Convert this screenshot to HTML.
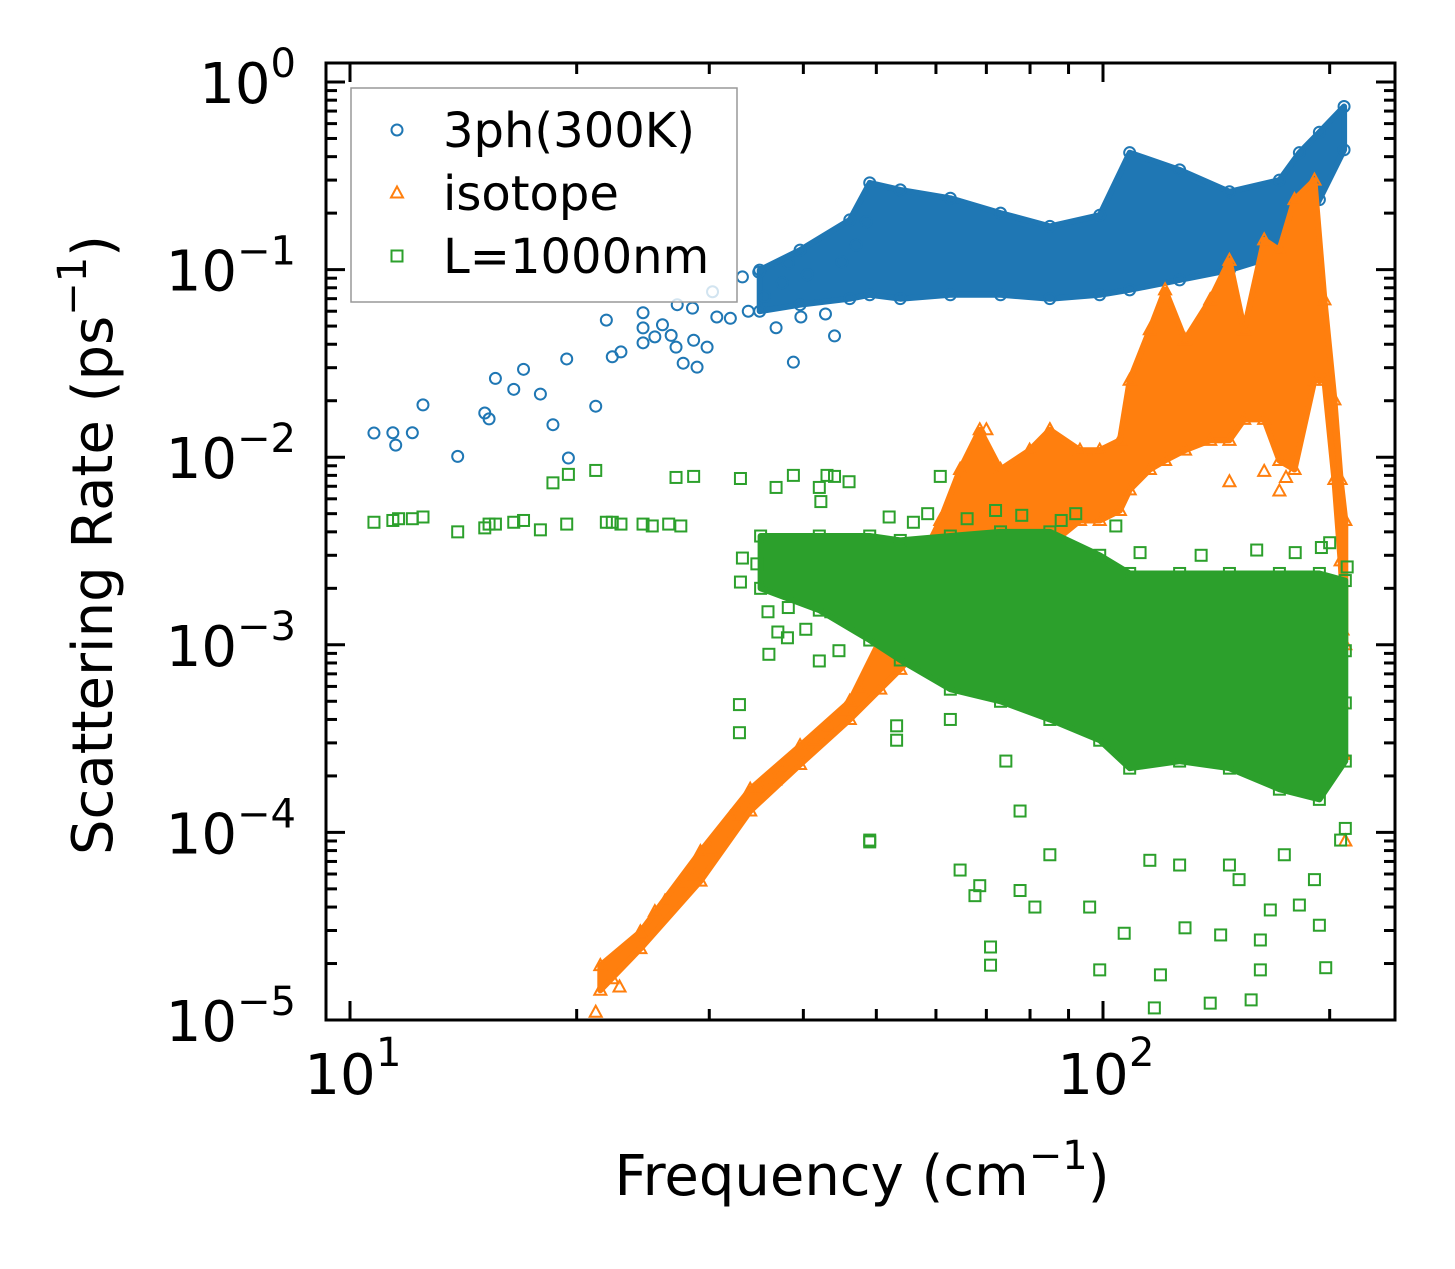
<!DOCTYPE html>
<html><head><meta charset="utf-8"><style>
html,body{margin:0;padding:0;background:#fff;}
svg{display:block;font-family:"DejaVu Sans","Liberation Sans",sans-serif;}
</style></head><body>
<svg id="chart" width="1455" height="1269" viewBox="0 0 1455 1269" xmlns="http://www.w3.org/2000/svg">
<rect x="0" y="0" width="1455" height="1269" fill="#fff"/>
<g id="series"></g>
<g id="axes"></g>
</svg>
<script>
// ---- data ----
const blueFreq=[10.76,11.4,11.5,12.1,12.5,13.9,15.1,15.3,15.6,16.5,17.0,17.9,18.6,19.4,19.5,21.2,21.9,22.3,22.9,24.5,24.5,24.5,25.4,26.0,26.7,27.1,27.2,27.7,28.5,28.6,28.9,29.8,30.3,30.7,33.2,34.9,38.8,44.0,36.8,39.7,42.8,38.2,32.0,33.8,35.5,37.5,40.5,45.0,47.0,48.5];
const blueRate=[0.01345,0.0135,0.0116,0.0135,0.019,0.0101,0.0172,0.016,0.0263,0.023,0.0294,0.0217,0.0149,0.0334,0.0099,0.0187,0.0538,0.0343,0.0364,0.0589,0.0489,0.0407,0.0438,0.0508,0.0446,0.0386,0.065,0.0317,0.0623,0.042,0.0302,0.0386,0.0762,0.0559,0.0914,0.097,0.0321,0.0443,0.049,0.0559,0.058,0.108,0.055,0.060,0.072,0.085,0.094,0.110,0.135,0.180];
const blueBandFreq=[35.0,39.6,46.1,49.0,53.8,62.7,73.1,85.0,99.0,108.5,126.4,147.2,171.5,182.3,193.8,209];
const blueBandHi=[0.0994,0.127,0.184,0.290,0.266,0.240,0.200,0.170,0.195,0.420,0.340,0.260,0.300,0.420,0.540,0.740];
const blueBandLo=[0.0600,0.0650,0.0700,0.0734,0.0700,0.0734,0.0734,0.0700,0.0734,0.0780,0.0881,0.0994,0.120,0.144,0.236,0.435];

const orangeBandFreq=[21.5,24.3,29.2,34.0,39.6,46.1,50.6,53.8,57.2,60.8,64.6,68.6,73.1,79.9,85.0,93.2,99.0,105.3,108.5,115.4,120.9,128.5,138.8,147.2,154.0,163.7,171.5,179.6,190.9,196.8,202.9,206.8,209.8];
const orangeBandHi=[1.95e-5,2.95e-5,7.9e-5,1.7e-4,2.9e-4,5.0e-4,1.06e-3,1.74e-3,2.8e-3,4.6e-3,8.6e-3,0.0140,0.0086,0.0109,0.0140,0.0109,0.0109,0.0123,0.0257,0.0478,0.078,0.0423,0.069,0.112,0.0478,0.144,0.127,0.236,0.300,0.069,0.0202,0.0076,0.0046];
const orangeBandLo=[1.44e-5,2.4e-5,5.5e-5,1.3e-4,2.3e-4,4.0e-4,5.8e-4,7.4e-4,9.8e-4,1.06e-3,1.38e-3,2.0e-3,2.2e-3,2.8e-3,3.4e-3,4.6e-3,4.6e-3,5.2e-3,6.7e-3,8.6e-3,9.6e-3,0.0109,0.0123,0.0123,0.0159,0.0159,0.0096,0.0086,0.0257,0.0257,0.0076,0.0028,0.0010];
const orangeFreq=[21.2,22.3,22.8,24.4,25.4,26.2,27.5,28.7,30.1,32.0,32.9,35.1,36.7,37.8,41.4,43.4,45.4,47.6,147.2,163.7,171.5,175.0,202.9,205.0,207.5,209.8,209.0,208.0,70.0,85.0];
const orangeRate=[1.10e-5,1.66e-5,1.5e-5,2.85e-5,3.78e-5,4.3e-5,5.3e-5,5.9e-5,8.1e-5,1.2e-4,1.24e-4,1.7e-4,1.9e-4,2.2e-4,3.1e-4,3.7e-4,4.5e-4,5.8e-4,0.0074,0.0084,0.0066,0.0078,0.0020,0.0014,4.9e-4,9.0e-5,2.6e-4,1.2e-3,0.0140,0.0140];

const greenBandFreq=[35.1,42.0,49.0,53.8,62.7,73.1,85.0,99.0,108.5,126.4,147.2,171.5,193.8,209.8];
const greenBandHi=[0.0038,0.0038,0.0038,0.0036,0.0038,0.0040,0.0040,0.0030,0.0024,0.0024,0.0024,0.0024,0.0024,0.0022];
const greenBandLo=[0.0020,0.00153,0.00106,0.00083,0.00058,0.0005,0.0004,0.00031,0.00022,0.00024,0.00022,0.00017,0.00015,0.00024];
const greenFreq=[10.76,11.4,11.6,12.1,12.5,13.9,15.1,15.3,15.6,16.5,17.0,17.9,19.4,21.9,22.3,22.9,24.5,25.2,26.5,27.5,18.6,19.5,21.2,27.1,28.6,33.0,36.8,38.8,42.0,42.2,43.0,44.0,46.0,60.8,33.2,34.7,33.0,35.9,38.2,37.0,38.1,36.0,40.3,43.5,44.6,42.0,32.9,32.9,53.2,53.2,49.0,49.0,67.6,68.6,70.9,70.9,64.6,77.6,81.2,96.0,99.0,106.7,119.2,117.0,128.5,138.8,157.3,161.8,166.8,182.3,193.8,197.6,161.8,143.3,151.6,190.9,206.8,209.8,115.4,126.4,147.2,174.1,85.0,77.6,74.3,62.7,209.8,209.8,200.0,211.0,52.0,56.0,58.5,66.0,72.0,78.0,88.0,92.0,104.0,112.0,135.0,160.0,180.0,195.0];
const greenRate=[0.0045,0.0046,0.0047,0.0047,0.0048,0.0040,0.0042,0.0044,0.0044,0.0045,0.0046,0.0041,0.0044,0.0045,0.0045,0.0044,0.0044,0.0043,0.0044,0.0043,0.0073,0.0081,0.0085,0.0078,0.0079,0.0077,0.0069,0.0080,0.0069,0.0058,0.0080,0.0079,0.0074,0.0079,0.0029,0.0027,0.00216,0.0015,0.00158,0.00117,0.00109,0.00089,0.00121,0.0015,0.00093,0.00082,0.00048,0.00034,0.00037,0.00031,9.1e-5,8.9e-5,4.6e-5,5.2e-5,2.45e-5,1.96e-5,6.3e-5,4.9e-5,4.0e-5,4.0e-5,1.85e-5,2.9e-5,1.74e-5,1.16e-5,3.1e-5,1.23e-5,1.28e-5,1.85e-5,3.86e-5,4.1e-5,3.2e-5,1.9e-5,2.67e-5,2.84e-5,5.6e-5,5.6e-5,9.1e-5,1.05e-4,7.1e-5,6.7e-5,6.7e-5,7.6e-5,7.6e-5,1.3e-4,2.4e-4,4.0e-4,4.9e-4,9.3e-4,0.0035,0.0026,0.0048,0.0045,0.0050,0.0047,0.0052,0.0049,0.0046,0.0050,0.0043,0.0031,0.0030,0.0032,0.0031,0.0033];

const xMajorTicks=[10,100];
const xMinorTicks=[20,30,40,50,60,70,80,90,200];
const xTickLabels=["1","2"];
const yMajorTicks=[1,0.1,0.01,0.001,0.0001,0.00001];
const yTickExp=["0","\u22121","\u22122","\u22123","\u22124","\u22125"];

// ---- axes functions ----
const L=326,R=1395,T=63,B=1020;
function X(f){return 350+753*Math.log10(f/10);}
function Y(r){return 82-187.6*Math.log10(r);}
const NS="http://www.w3.org/2000/svg";
function mk(tag,attrs,parent){const e=document.createElementNS(NS,tag);for(const k in attrs)e.setAttribute(k,attrs[k]);parent.appendChild(e);return e;}
const series=document.getElementById('series');
const axes=document.getElementById('axes');
const C={b:"#1f77b4",o:"#ff7f0e",g:"#2ca02c"};

function band(freq,lo,hi,color,name,parent){
  let d="M"+freq.map((f,i)=>X(f).toFixed(1)+","+Y(hi[i]).toFixed(1)).join(" L");
  for(let i=freq.length-1;i>=0;i--)d+=" L"+X(freq[i]).toFixed(1)+","+Y(lo[i]).toFixed(1);
  const p=mk('path',{d:d+"Z",fill:color,stroke:color,"stroke-width":6,"stroke-linejoin":"round"},parent);
  
  
}
function marker(kind,x,y,color,parent){
  let e;
  if(kind==='o')e=mk('circle',{cx:x,cy:y,r:5.5,fill:"none",stroke:color,"stroke-width":2},parent);
  else if(kind==='^')e=mk('path',{d:`M${x},${y-6.5} L${x+6},${y+4.5} L${x-6},${y+4.5}Z`,fill:"none",stroke:color,"stroke-width":2},parent);
  else e=mk('rect',{x:x-5.5,y:y-5.5,width:11,height:11,fill:"none",stroke:color,"stroke-width":2},parent);
  return e;
}
function points(kind,freq,rate,color,name){
  const g=mk('g',{},series);
  
  
  freq.forEach((f,i)=>{
    const e=marker(kind,X(f),Y(rate[i]),color,g);
    
    
  });
  return g;
}
function bandEdges(kind,freq,lo,hi,color,name){
  const g=mk('g',{},series);
  
  
  freq.forEach((f,i)=>{
    marker(kind,X(f),Y(hi[i]),color,g);
    marker(kind,X(f),Y(lo[i]),color,g);
  });
}

const gB=mk('g',{},series);


band(blueBandFreq,blueBandLo,blueBandHi,C.b,'3ph-dense-band',gB);
bandEdges('o',blueBandFreq,blueBandLo,blueBandHi,C.b,'3ph-band-edge');
points('o',blueFreq,blueRate,C.b,'3ph-points');

const gO=mk('g',{},series);


band(orangeBandFreq,orangeBandLo,orangeBandHi,C.o,'isotope-dense-band',gO);
bandEdges('^',orangeBandFreq,orangeBandLo,orangeBandHi,C.o,'isotope-band-edge');
points('^',orangeFreq,orangeRate,C.o,'isotope-points');

const gG=mk('g',{},series);


band(greenBandFreq,greenBandLo,greenBandHi,C.g,'l1000nm-dense-band',gG);
bandEdges('s',greenBandFreq,greenBandLo,greenBandHi,C.g,'l1000nm-band-edge');
points('s',greenFreq,greenRate,C.g,'l1000nm-points');

// ---- frame & ticks ----
const frame=mk('rect',{x:L,y:T,width:R-L,height:B-T,fill:"none",stroke:"#000","stroke-width":3},axes);


const tk=mk('g',{stroke:"#000","stroke-width":3},axes);


xMajorTicks.forEach(v=>{const x=X(v);mk('line',{x1:x,y1:B,x2:x,y2:B-19},tk);mk('line',{x1:x,y1:T,x2:x,y2:T+19},tk);});
xMinorTicks.forEach(v=>{const x=X(v);mk('line',{x1:x,y1:B,x2:x,y2:B-11},tk);mk('line',{x1:x,y1:T,x2:x,y2:T+11},tk);});
yMajorTicks.forEach(v=>{const y=Y(v);mk('line',{x1:L,y1:y,x2:L+19,y2:y},tk);mk('line',{x1:R,y1:y,x2:R-19,y2:y},tk);
  for(let m=2;m<=9;m++){const yy=Y(v*m);if(yy>T+1&&yy<B-1){mk('line',{x1:L,y1:yy,x2:L+11,y2:yy},tk);mk('line',{x1:R,y1:yy,x2:R-11,y2:yy},tk);}}
});
xMajorTicks.forEach((v,i)=>{
  const t=mk('text',{x:X(v)-10,y:1094,"font-size":56,"text-anchor":"middle",fill:"#000"},axes);
  t.textContent="10";
  
  
  const s=mk('text',{x:X(v)+26,y:1066,"font-size":40,fill:"#000"},axes);
  s.textContent=xTickLabels[i];
});
yMajorTicks.forEach((v,i)=>{
  const y=Y(v);
  const g=mk('text',{x:296,y:y+21,"text-anchor":"end",fill:"#000","font-size":56},axes);
  
  
  const a=mk('tspan',{},g);a.textContent="10";
  const b=mk('tspan',{"font-size":40,dy:-26},g);b.textContent=yTickExp[i];
});
const xt=mk('text',{x:862,y:1195,"text-anchor":"middle","font-size":56,fill:"#000"},axes);


xt.innerHTML='Frequency (cm<tspan font-size="40" dy="-26">\u22121</tspan><tspan dy="26">)</tspan>';
const yt=mk('text',{x:0,y:0,"text-anchor":"middle","font-size":56,fill:"#000",transform:"translate(112,545) rotate(-90)"},axes);


yt.innerHTML='Scattering Rate (ps<tspan font-size="40" dy="-26">\u22121</tspan><tspan dy="26">)</tspan>';

const lg=mk('g',{},axes);


mk('rect',{x:351,y:88,width:386,height:214,fill:"#fff","fill-opacity":0.8,stroke:"#999","stroke-width":1.5},lg);
const legendLabels=["3ph(300K)","isotope","L=1000nm"];
const legendKinds=['o','^','s'];
const legendColors=[C.b,C.o,C.g];
legendLabels.forEach((lab,i)=>{
  const cy=130+i*63;
  const e=mk('g',{},lg);
  
  
  marker(legendKinds[i],397,cy,legendColors[i],e);
  const t=mk('text',{x:443,y:cy+17,"font-size":48,fill:"#000"},e);
  t.textContent=lab;
});
</script>
</body></html>
